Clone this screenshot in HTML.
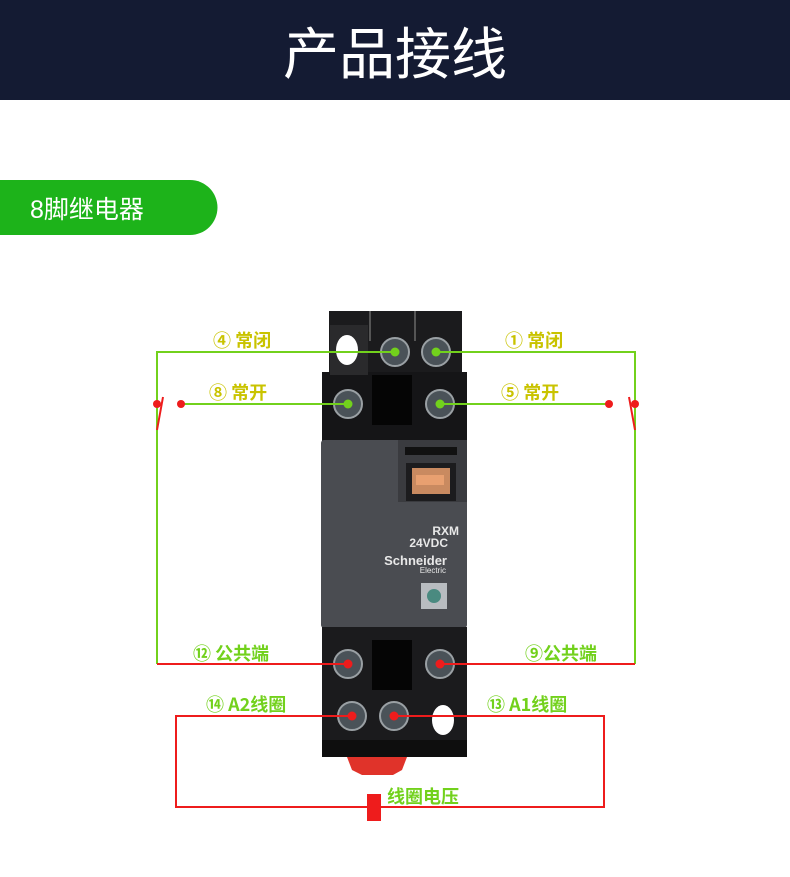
<!DOCTYPE html>
<html><head><meta charset="utf-8"><style>
body{margin:0;width:790px;height:877px;background:#fff;overflow:hidden;font-family:"Liberation Sans","Noto Sans CJK SC",sans-serif}
</style></head><body>
<svg width="790" height="877" xmlns="http://www.w3.org/2000/svg" style="display:block">
<rect x="0" y="0" width="790" height="100" fill="#141b33"/>
<text x="395" y="74" fill="#fff" font-size="56" text-anchor="middle" font-family="Noto Sans CJK SC, sans-serif">产品接线</text>
<path d="M0 180 H190 A27.5 27.5 0 0 1 190 235 H0 Z" fill="#1db31a"/>
<text x="30" y="218" fill="#fff" font-size="25" font-family="Liberation Sans, Noto Sans CJK SC, sans-serif">8脚继电器</text>

<!-- top base -->
<rect x="329" y="311" width="133" height="134" fill="#1b1b1d"/>
<rect x="322" y="372" width="145" height="70" fill="#151517"/>
<rect x="330" y="325" width="38" height="50" fill="#2a2a2c"/>
<ellipse cx="347" cy="350" rx="11" ry="15" fill="#fff"/>
<rect x="369" y="311" width="2" height="30" fill="#555"/>
<rect x="414" y="311" width="2" height="30" fill="#555"/>
<rect x="372" y="375" width="40" height="50" fill="#050505"/>
<g fill="#4a5258" stroke="#9aa0a4" stroke-width="2">
<circle cx="395" cy="352" r="14"/><circle cx="436" cy="352" r="14"/>
<circle cx="348" cy="404" r="14"/><circle cx="440" cy="404" r="14"/>
</g>
<!-- body -->
<rect x="321" y="440" width="146" height="188" rx="3" fill="#4a4c51"/>
<rect x="398" y="440" width="69" height="62" fill="#3a3b3f"/>
<rect x="405" y="447" width="52" height="8" fill="#111"/>
<rect x="406" y="463" width="50" height="38" fill="#1c1c1e"/>
<rect x="412" y="468" width="38" height="26" fill="#c98a60"/>
<rect x="416" y="475" width="28" height="10" fill="#e8a070"/>
<text x="459" y="535" fill="#e8e8e8" font-size="12" font-weight="bold" text-anchor="end">RXM</text>
<text x="448" y="547" fill="#e8e8e8" font-size="12" font-weight="bold" text-anchor="end">24VDC</text>
<text x="447" y="565" fill="#e8e8e8" font-size="13" font-weight="bold" text-anchor="end">Schneider</text>
<text x="446" y="573" fill="#e8e8e8" font-size="8" text-anchor="end">Electric</text>
<rect x="421" y="583" width="26" height="26" fill="#b8bcc0"/>
<circle cx="434" cy="596" r="7" fill="#4a8a80"/>
<!-- bottom base -->
<rect x="322" y="627" width="145" height="130" fill="#1b1b1d"/>
<rect x="372" y="640" width="40" height="50" fill="#050505"/>
<ellipse cx="443" cy="720" rx="11" ry="15" fill="#fff"/>
<rect x="322" y="740" width="145" height="17" fill="#0e0e0e"/>
<path d="M347 757 H407 L402 770 L393 775 H362 L352 770 Z" fill="#e0332a"/>
<g fill="#4a5258" stroke="#9aa0a4" stroke-width="2">
<circle cx="348" cy="664" r="14"/><circle cx="440" cy="664" r="14"/>
<circle cx="352" cy="716" r="14"/><circle cx="394" cy="716" r="14"/>
</g>

<!-- green wires -->
<g stroke="#72d11c" stroke-width="2" fill="none">
<polyline points="157,430 157,352 395,352"/>
<polyline points="436,352 635,352 635,430"/>
<line x1="181" y1="404" x2="348" y2="404"/>
<line x1="440" y1="404" x2="609" y2="404"/>
<line x1="157" y1="430" x2="157" y2="664"/>
<line x1="635" y1="430" x2="635" y2="664"/>
</g>
<g fill="#72d11c"><circle cx="395" cy="352" r="4.5"/><circle cx="436" cy="352" r="4.5"/><circle cx="348" cy="404" r="4.5"/><circle cx="440" cy="404" r="4.5"/></g>
<!-- red -->
<g stroke="#ee1c1c" stroke-width="2" fill="none">
<line x1="163" y1="397" x2="157" y2="430"/>
<line x1="629" y1="397" x2="635" y2="430"/>
<line x1="157" y1="664" x2="348" y2="664"/>
<line x1="440" y1="664" x2="635" y2="664"/>
<polyline points="352,716 176,716 176,807 604,807 604,716 394,716"/>
</g>
<rect x="367" y="794" width="14" height="27" fill="#ee1c1c"/>
<g fill="#ee1c1c"><circle cx="157" cy="404" r="4"/><circle cx="181" cy="404" r="4"/><circle cx="609" cy="404" r="4"/><circle cx="635" cy="404" r="4"/>
<circle cx="348" cy="664" r="4.5"/><circle cx="440" cy="664" r="4.5"/><circle cx="352" cy="716" r="4.5"/><circle cx="394" cy="716" r="4.5"/></g>

<g fill="#c9c300" font-size="18" font-weight="bold" font-family="Noto Sans CJK SC, sans-serif">
<text x="213" y="347">④ 常闭</text>
<text x="505" y="347">① 常闭</text>
<text x="209" y="399">⑧ 常开</text>
<text x="501" y="399">⑤ 常开</text>
</g>
<g fill="#72d11c" font-size="18" font-weight="bold" font-family="Noto Sans CJK SC, sans-serif">
<text x="193" y="660">⑫ 公共端</text>
<text x="525" y="660">⑨公共端</text>
<text x="206" y="711">⑭ A2线圈</text>
<text x="487" y="711">⑬ A1线圈</text>
<text x="387" y="803">线圈电压</text>
</g>
</svg>
</body></html>
